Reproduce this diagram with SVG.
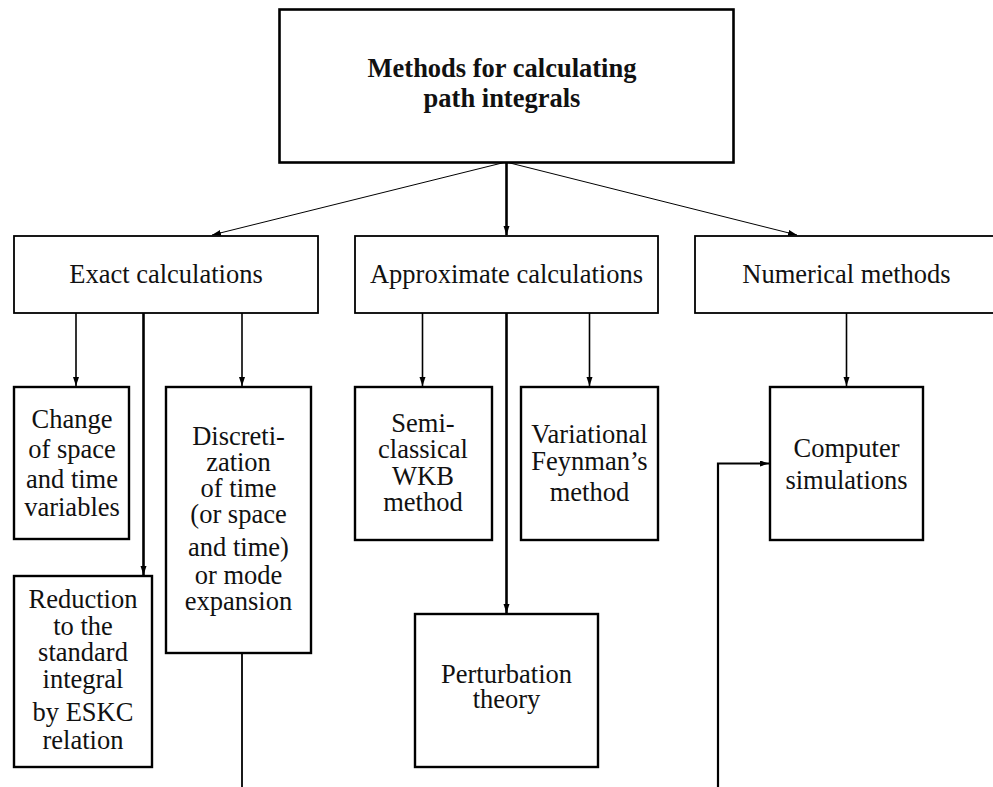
<svg xmlns="http://www.w3.org/2000/svg" width="993" height="787" viewBox="0 0 993 787">
<style>
text{font-family:"Times New Roman",serif;font-size:26.5px;fill:#111;text-anchor:middle}
.title{font-weight:bold;font-size:26.5px}
.top{fill:#fff;stroke:#000;stroke-width:2.6}
.mid{fill:#fff;stroke:#000;stroke-width:1.8}
.leaf{fill:#fff;stroke:#000;stroke-width:2.4}
.c{fill:none;stroke:#000}
</style>
<defs>
<marker id="ah" markerUnits="userSpaceOnUse" markerWidth="10" markerHeight="8" refX="9" refY="3" orient="auto">
<path d="M0,0 L9,3 L0,6 z" fill="#000"/>
</marker>
</defs>
<g id="connectors">
<line class="c" x1="506" y1="162" x2="212" y2="235" stroke-width="1" marker-end="url(#ah)"/>
<line class="c" x1="506" y1="162" x2="797" y2="235" stroke-width="1" marker-end="url(#ah)"/>
<line class="c" x1="506.5" y1="162" x2="506.5" y2="235" stroke-width="2.6" marker-end="url(#ah)"/>
<line class="c" x1="76" y1="313" x2="76" y2="386" stroke-width="1.6" marker-end="url(#ah)"/>
<line class="c" x1="143.5" y1="313" x2="143.5" y2="575" stroke-width="2.6" marker-end="url(#ah)"/>
<line class="c" x1="242" y1="313" x2="242" y2="386" stroke-width="1.6" marker-end="url(#ah)"/>
<line class="c" x1="242" y1="654" x2="242" y2="790" stroke-width="1.8"/>
<line class="c" x1="422.5" y1="313" x2="422.5" y2="386" stroke-width="1.6" marker-end="url(#ah)"/>
<line class="c" x1="506.5" y1="313" x2="506.5" y2="613" stroke-width="2.6" marker-end="url(#ah)"/>
<line class="c" x1="589.5" y1="313" x2="589.5" y2="386" stroke-width="1.6" marker-end="url(#ah)"/>
<line class="c" x1="846.5" y1="313" x2="846.5" y2="386" stroke-width="1.6" marker-end="url(#ah)"/>
<polyline class="c" points="718,790 718,463.5 769,463.5" stroke-width="2.2" marker-end="url(#ah)"/>
</g>
<g id="root">
<rect class="top" x="279.5" y="9.5" width="454" height="153"/>
<text class="title" x="502" y="77">Methods for calculating</text>
<text class="title" x="502" y="107">path integrals</text>
</g>
<g id="exact">
<rect class="mid" x="14" y="236" width="304" height="77"/>
<text x="166" y="283">Exact calculations</text>
</g>
<g id="approximate">
<rect class="mid" x="355" y="236" width="303" height="77"/>
<text x="506.5" y="283">Approximate calculations</text>
</g>
<g id="numerical">
<rect class="mid" x="695" y="236" width="302" height="77"/>
<text x="846.5" y="283">Numerical methods</text>
</g>
<g id="change">
<rect class="leaf" x="14" y="387" width="115" height="152"/>
<text x="72" y="428">Change</text>
<text x="72" y="458">of space</text>
<text x="72" y="488">and time</text>
<text x="72" y="516">variables</text>
</g>
<g id="reduction">
<rect class="leaf" x="14" y="576" width="138" height="191"/>
<text x="83" y="608">Reduction</text>
<text x="83" y="635">to the</text>
<text x="83" y="661">standard</text>
<text x="83" y="688">integral</text>
<text x="83" y="721">by ESKC</text>
<text x="83" y="749">relation</text>
</g>
<g id="discretization">
<rect class="leaf" x="166" y="387" width="145" height="266"/>
<text x="238.5" y="445">Discreti-</text>
<text x="238.5" y="471">zation</text>
<text x="238.5" y="497">of time</text>
<text x="238.5" y="523">(or space</text>
<text x="238.5" y="556">and time)</text>
<text x="238.5" y="584">or mode</text>
<text x="238.5" y="610">expansion</text>
</g>
<g id="semiclassical">
<rect class="leaf" x="355" y="387" width="137" height="153"/>
<text x="423" y="432">Semi-</text>
<text x="423" y="458">classical</text>
<text x="423" y="485">WKB</text>
<text x="423" y="511">method</text>
</g>
<g id="variational">
<rect class="leaf" x="521" y="387" width="137" height="153"/>
<text x="589.5" y="443">Variational</text>
<text x="589.5" y="470">Feynman’s</text>
<text x="589.5" y="501">method</text>
</g>
<g id="perturbation">
<rect class="leaf" x="415" y="614" width="183" height="153"/>
<text x="506.5" y="683">Perturbation</text>
<text x="506.5" y="708">theory</text>
</g>
<g id="computer">
<rect class="leaf" x="770" y="387" width="153" height="153"/>
<text x="846.5" y="457">Computer</text>
<text x="846.5" y="489">simulations</text>
</g>
</svg>
